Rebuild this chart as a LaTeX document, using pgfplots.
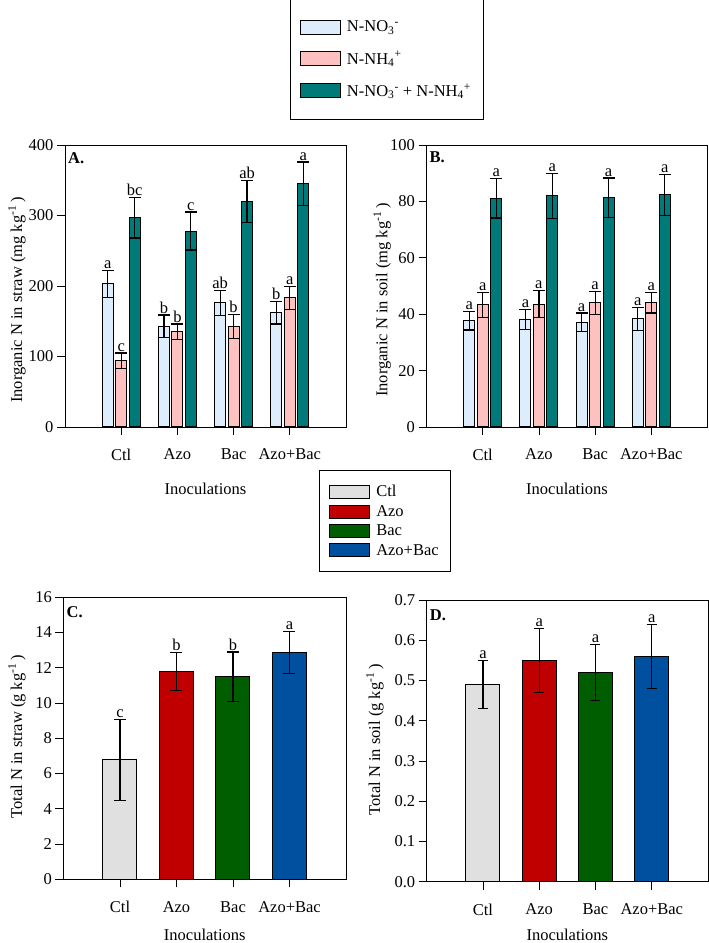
\documentclass[border=0pt]{standalone}
\usepackage{fontspec}
\setmainfont{Liberation Serif}
\usepackage{pgfplots}
\usepackage{pgfplotstable}
\pgfplotsset{compat=1.18}

\definecolor{cno}{RGB}{222,237,252}
\definecolor{cnh}{RGB}{255,192,192}
\definecolor{ctot}{RGB}{0,122,120}
\definecolor{cctl}{RGB}{224,224,224}
\definecolor{cazo}{RGB}{192,0,0}
\definecolor{cbac}{RGB}{0,94,0}
\definecolor{cab}{RGB}{0,80,160}

\pgfplotstableread{
x no3 no3e no3l nh4 nh4e nh4l tot tote totl
0 203 19 a 94 11 c 297 29 bc
1 143 16 b 135 11 b 278 27 c
2 176 18 ab 143 17 b 320 30 ab
3 162 16 b 183 16 a 345 31 a
}\dataA

\pgfplotstableread{
x no3 no3e no3l nh4 nh4e nh4l tot tote totl
0 37.7 3.3 a 43.3 4.5 a 81.1 7.0 a
1 38.1 3.5 a 43.6 4.7 a 82.0 8.0 a
2 37.1 3.3 a 44.0 4.0 a 81.3 7.0 a
3 38.3 4.0 a 44.0 3.6 a 82.3 7.3 a
}\dataB

\pgfplotstableread{
x val err lab
0 6.77 2.3 c
1 11.8 1.07 b
2 11.5 1.4 b
3 12.87 1.2 a
}\dataC

\pgfplotstableread{
x val err lab
0 0.49 0.06 a
1 0.55 0.08 a
2 0.52 0.07 a
3 0.56 0.08 a
}\dataD

\newcommand{\fs}{\fontsize{16.5}{19}\selectfont}

\pgfplotsset{
  myaxis/.style={
    scale only axis,
    anchor=south west,
    xmin=-1, xmax=4, ymin=0,
    xtick={0,1,2,3}, xticklabels={Ctl,Azo,Bac,Azo+Bac},
    tick align=outside, xtick pos=lower, ytick pos=left,
    major tick length=8pt,
    axis line style={line width=0.7pt, black},
    tick style={line width=0.8pt, black},
    font=\fs,
    /pgf/number format/assume math mode=true,
    xlabel={Inoculations},
    xticklabel style={yshift=-10.5pt},
    clip=false,
  },
  errb/.style={error bars/.cd, y dir=both, y explicit,
    error bar style={line width=1.2pt, black},
    error mark options={rotate=90, mark size=#1, line width=1.2pt, black}},
  barA/.style={ybar, bar width=11pt, bar shift=0pt, draw=black, line width=1pt},
  barC/.style 2 args={ybar, bar width=34pt, bar shift=0pt, draw=black, line width=1pt,
    restrict x to domain=#1:#2},
  lab/.style={ybar, bar shift=0pt, draw=none, fill=none, forget plot, nodes near coords,
    point meta=explicit symbolic,
    nodes near coords style={anchor=south, inner sep=1.5pt, black, font=\fs}},
  patchimg/.style={legend image code/.code={\draw[##1, line width=1pt] (0pt,-#1) rectangle (40pt,#1);}},
}

\begin{document}
\begin{tikzpicture}
\path[use as bounding box] (0,0) rectangle (709pt,943pt);

% ---------- A ----------
\begin{axis}[myaxis, at={(65pt,516pt)}, width=281pt, height=282pt,
  ymax=400, ytick={0,100,200,300,400},
  ylabel={Inorganic N in straw (mg kg\textsuperscript{-1}\,)},
  ylabel style={at={(axis description cs:-0.171,0.45)}, anchor=center},
  xlabel style={at={(axis description cs:0.5,-0.22)}, anchor=center},
  legend style={at={(1.144,1.516)}, anchor=north, draw=black, line width=0.8pt,
    inner xsep=10pt, inner ysep=19pt, row sep=14pt, font=\fs,
    cells={anchor=west},
    /tikz/every odd column/.append style={column sep=4pt}},
  patchimg=7pt,
]
\addplot[barA, fill=cno, errb=6pt] table[x expr=\thisrow{x}-0.24, y=no3, y error=no3e] {\dataA};
\addlegendentry{N-NO\textsubscript{3}\textsuperscript{-}}
\addplot[barA, fill=cnh, errb=6pt] table[x=x, y=nh4, y error=nh4e] {\dataA};
\addlegendentry{N-NH\textsubscript{4}\textsuperscript{+}}
\addplot[barA, fill=ctot, errb=6pt] table[x expr=\thisrow{x}+0.24, y=tot, y error=tote] {\dataA};
\addlegendentry{N-NO\textsubscript{3}\textsuperscript{-} + N-NH\textsubscript{4}\textsuperscript{+}}
\addplot[lab, bar width=11pt] table[x expr=\thisrow{x}-0.24, y expr=\thisrow{no3}+\thisrow{no3e}, meta=no3l] {\dataA};
\addplot[lab, bar width=11pt] table[x=x, y expr=\thisrow{nh4}+\thisrow{nh4e}, meta=nh4l] {\dataA};
\addplot[lab, bar width=11pt] table[x expr=\thisrow{x}+0.24, y expr=\thisrow{tot}+\thisrow{tote}, meta=totl] {\dataA};
\node[anchor=north west, inner sep=1pt, font=\fs\bfseries] at (axis description cs:0,1) [xshift=2pt, yshift=-6pt] {A.};
\end{axis}

% ---------- B ----------
\begin{axis}[myaxis, at={(426.5pt,516pt)}, width=281pt, height=282pt,
  ymax=100, ytick={0,20,40,60,80,100},
  ylabel={Inorganic N in soil (mg kg\textsuperscript{-1}\,)},
  ylabel style={at={(axis description cs:-0.158,0.45)}, anchor=center},
  xlabel style={at={(axis description cs:0.5,-0.22)}, anchor=center},
]
\addplot[barA, fill=cno, errb=6pt] table[x expr=\thisrow{x}-0.24, y=no3, y error=no3e] {\dataB};
\addplot[barA, fill=cnh, errb=6pt] table[x=x, y=nh4, y error=nh4e] {\dataB};
\addplot[barA, fill=ctot, errb=6pt] table[x expr=\thisrow{x}+0.24, y=tot, y error=tote] {\dataB};
\addplot[lab, bar width=11pt] table[x expr=\thisrow{x}-0.24, y expr=\thisrow{no3}+\thisrow{no3e}, meta=no3l] {\dataB};
\addplot[lab, bar width=11pt] table[x=x, y expr=\thisrow{nh4}+\thisrow{nh4e}, meta=nh4l] {\dataB};
\addplot[lab, bar width=11pt] table[x expr=\thisrow{x}+0.24, y expr=\thisrow{tot}+\thisrow{tote}, meta=totl] {\dataB};
\node[anchor=north west, inner sep=1pt, font=\fs\bfseries] at (axis description cs:0,1) [xshift=2pt, yshift=-6pt] {B.};
\end{axis}

% ---------- C ----------
\begin{axis}[myaxis, at={(63.5pt,63.7pt)}, width=282.5pt, height=282pt,
  ymax=16, ytick={0,2,...,16},
  ylabel={Total N in straw (g kg\textsuperscript{-1}\,)},
  ylabel style={at={(axis description cs:-0.165,0.505)}, anchor=center},
  xlabel style={at={(axis description cs:0.5,-0.197)}, anchor=center},
  legend style={at={(1.138,1.451)}, anchor=north, draw=black, line width=0.8pt,
    inner xsep=10pt, inner ysep=13pt, row sep=3pt, font=\fs,
    cells={anchor=west},
    /tikz/every odd column/.append style={column sep=4pt}},
  patchimg=6.5pt,
]
\addplot[barC={-0.4}{0.4}, fill=cctl, errb=6pt] table[x=x, y=val, y error=err] {\dataC};
\addlegendentry{Ctl}
\addplot[barC={0.6}{1.4}, fill=cazo, errb=6pt] table[x=x, y=val, y error=err] {\dataC};
\addlegendentry{Azo}
\addplot[barC={1.6}{2.4}, fill=cbac, errb=6pt] table[x=x, y=val, y error=err] {\dataC};
\addlegendentry{Bac}
\addplot[barC={2.6}{3.4}, fill=cab, errb=6pt] table[x=x, y=val, y error=err] {\dataC};
\addlegendentry{Azo+Bac}
\addplot[lab, bar width=34pt] table[x=x, y expr=\thisrow{val}+\thisrow{err}, meta=lab] {\dataC};
\node[anchor=north west, inner sep=1pt, font=\fs\bfseries] at (axis description cs:0,1) [xshift=2pt, yshift=-8pt] {C.};
\end{axis}

% ---------- D ----------
\begin{axis}[myaxis, at={(426.7pt,61.3pt)}, width=281.3pt, height=281.7pt,
  ymax=0.7, ytick={0,0.1,...,0.71},
  yticklabel style={/pgf/number format/.cd, fixed, fixed zerofill, precision=1},
  ylabel={Total N in soil (g kg\textsuperscript{-1}\,)},
  ylabel style={at={(axis description cs:-0.184,0.503)}, anchor=center},
  xlabel style={at={(axis description cs:0.5,-0.19)}, anchor=center},
]
\addplot[barC={-0.4}{0.4}, fill=cctl, errb=5pt] table[x=x, y=val, y error=err] {\dataD};
\addplot[barC={0.6}{1.4}, fill=cazo, errb=5pt] table[x=x, y=val, y error=err] {\dataD};
\addplot[barC={1.6}{2.4}, fill=cbac, errb=5pt] table[x=x, y=val, y error=err] {\dataD};
\addplot[barC={2.6}{3.4}, fill=cab, errb=5pt] table[x=x, y=val, y error=err] {\dataD};
\addplot[lab, bar width=34pt] table[x=x, y expr=\thisrow{val}+\thisrow{err}, meta=lab] {\dataD};
\node[anchor=north west, inner sep=1pt, font=\fs\bfseries] at (axis description cs:0,1) [xshift=2pt, yshift=-8pt] {D.};
\end{axis}
\end{tikzpicture}
\end{document}
